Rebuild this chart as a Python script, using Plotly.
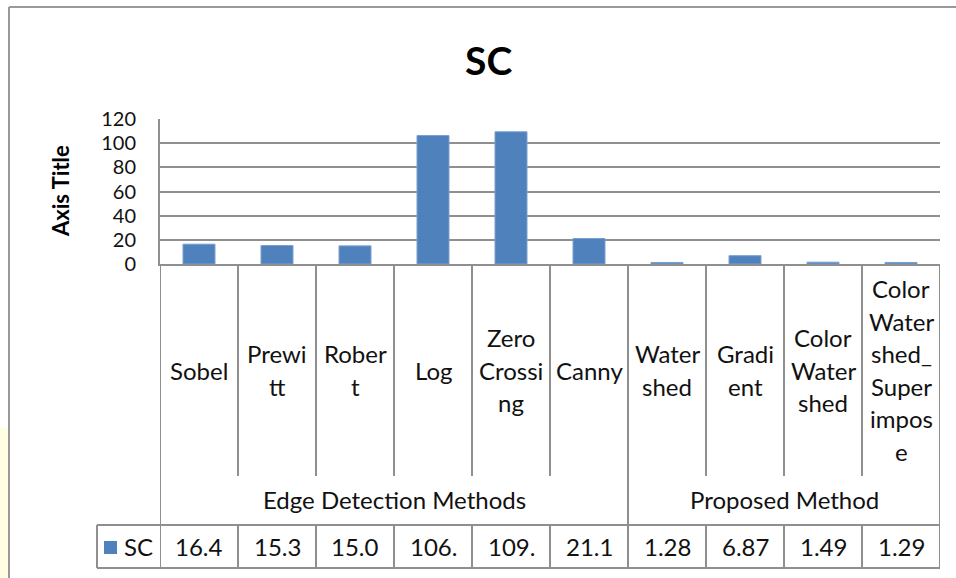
import plotly.graph_objects as go

# --- data -------------------------------------------------------------
methods = ["Sobel", "Prewitt", "Robert", "Log", "Zero Crossing", "Canny",
           "Watershed", "Gradient", "Color Watershed", "Color Watershed_Superimpose"]
method_lines = [["Sobel"], ["Prewi", "tt"], ["Rober", "t"], ["Log"],
                ["Zero", "Crossi", "ng"], ["Canny"], ["Water", "shed"],
                ["Gradi", "ent"], ["Color", "Water", "shed"],
                ["Color", "Water", "shed_", "Super", "impos", "e"]]
groups = ["Edge Detection Methods", "Proposed Method"]
group_sizes = [6, 4]
sc_values = [16.4, 15.3, 15.0, 106.3, 109.4, 21.1, 1.28, 6.87, 1.49, 1.29]
y_ticks = [0, 20, 40, 60, 80, 100, 120]
series_name = "SC"

# --- page geometry (pixels) -------------------------------------------
W, H = 956, 578
PLOT_L, PLOT_R = 160, 940
PLOT_T, PLOT_B = 119, 264
CAT_B = 476          # bottom of the category-label cells
ROW_T, ROW_B = 525, 568   # data-table row
LEG_L = 97

BAR = "#4F81BD"
LINE = "#8f8f8f"
TXT = "#111111"
FONT = "Lato"
FS = 24


def px(x):
    return x / W


def py(y):
    return 1 - y / H


def table_value(v):
    s = f"{v:.1f}" if v >= 10 else f"{v:.2f}"
    return s[:4]


idx = list(range(len(methods)))

fig = go.Figure(go.Bar(
    x=idx, y=sc_values, name=series_name, width=0.41,
    marker=dict(color=BAR, line=dict(color="#7a9fd0", width=1)),
    showlegend=False,
))

shapes = []
annotations = []


def vline(xd, y0, y1):
    shapes.append(dict(type="line", xref="x", yref="paper", x0=xd, x1=xd,
                       y0=py(y0), y1=py(y1), line=dict(color=LINE, width=2)))


def hline_px(x0, x1, y):
    shapes.append(dict(type="line", xref="paper", yref="paper", x0=px(x0), x1=px(x1),
                       y0=py(y), y1=py(y), line=dict(color=LINE, width=2)))


# category cells
n = len(methods)
for b in range(n + 1):
    xb = b - 0.5
    if b in (0, n, group_sizes[0]):
        vline(xb, PLOT_B, ROW_B)
    else:
        vline(xb, PLOT_B, CAT_B)
        vline(xb, ROW_T, ROW_B)

# data-table row borders
hline_px(LEG_L, PLOT_R, ROW_T)
hline_px(LEG_L, PLOT_R, ROW_B)
shapes.append(dict(type="line", xref="paper", yref="paper", x0=px(LEG_L), x1=px(LEG_L),
                   y0=py(ROW_T), y1=py(ROW_B), line=dict(color=LINE, width=2)))

# outer chart frame and side strip
shapes.append(dict(type="rect", xref="paper", yref="paper", x0=0, x1=px(8),
                   y0=0, y1=py(428), fillcolor="#FFFDE2", line=dict(width=0), layer="below"))
shapes.append(dict(type="line", xref="paper", yref="paper", x0=px(9), x1=px(9),
                   y0=0, y1=py(7), line=dict(color="#999999", width=2)))
shapes.append(dict(type="line", xref="paper", yref="paper", x0=px(9), x1=1,
                   y0=py(7), y1=py(7), line=dict(color="#999999", width=2)))

# category labels
LINE_H = 32.5
CAT_MID = (PLOT_B + CAT_B) / 2
for i, lines in enumerate(method_lines):
    k = len(lines)
    for j, t in enumerate(lines):
        yc = CAT_MID + (j - (k - 1) / 2) * LINE_H
        annotations.append(dict(x=i, y=py(yc), xref="x", yref="paper", text=t,
                                showarrow=False, xanchor="center", yanchor="middle",
                                font=dict(family=FONT, size=FS, color=TXT)))

# group labels
start = 0
for g, size in zip(groups, group_sizes):
    center = start + (size - 1) / 2
    annotations.append(dict(x=center, y=py(499), xref="x", yref="paper", text=g,
                            showarrow=False, xanchor="center", yanchor="middle",
                            font=dict(family=FONT, size=FS, color=TXT)))
    start += size

# data table values
ROW_MID = (ROW_T + ROW_B) / 2
for i, v in enumerate(sc_values):
    annotations.append(dict(x=i, y=py(ROW_MID), xref="x", yref="paper", text=table_value(v),
                            showarrow=False, xanchor="center", yanchor="middle",
                            font=dict(family=FONT, size=FS, color=TXT)))

# legend key inside the table
shapes.append(dict(type="rect", xref="paper", yref="paper", x0=px(104), x1=px(117),
                   y0=py(554), y1=py(541), fillcolor=BAR, line=dict(width=0)))
annotations.append(dict(x=px(122), y=py(ROW_MID), xref="paper", yref="paper", text=series_name,
                        showarrow=False, xanchor="left", yanchor="middle",
                        font=dict(family=FONT, size=FS, color=TXT)))

# title and axis title
annotations.append(dict(x=px(488), y=py(60), xref="paper", yref="paper", text="<b>SC</b>",
                        showarrow=False, xanchor="center", yanchor="middle",
                        font=dict(family=FONT, size=39, color="#000000")))
annotations.append(dict(x=px(60), y=py(191), xref="paper", yref="paper", text="<b>Axis Title</b>",
                        showarrow=False, xanchor="center", yanchor="middle", textangle=-90,
                        font=dict(family=FONT, size=22, color="#000000")))

fig.update_layout(
    width=W, height=H,
    margin=dict(l=0, r=0, t=0, b=0, autoexpand=False),
    paper_bgcolor="white", plot_bgcolor="white",
    shapes=shapes, annotations=annotations,
    xaxis=dict(domain=[px(PLOT_L), px(PLOT_R)], range=[-0.5, n - 0.5],
               showticklabels=False, showgrid=False, zeroline=False, automargin=False,
               showline=True, linecolor=LINE, linewidth=2, fixedrange=True),
    yaxis=dict(domain=[py(PLOT_B), py(PLOT_T)], range=[0, 120],
               tickvals=y_ticks, ticktext=[str(t) for t in y_ticks],
               tickfont=dict(family=FONT, size=20, color=TXT),
               ticklabelstandoff=18, automargin=False,
               showgrid=True, gridcolor=LINE, gridwidth=2, zeroline=False,
               showline=True, linecolor=LINE, linewidth=2, fixedrange=True),
    bargap=0.59,
)

fig.write_html("out.html")
